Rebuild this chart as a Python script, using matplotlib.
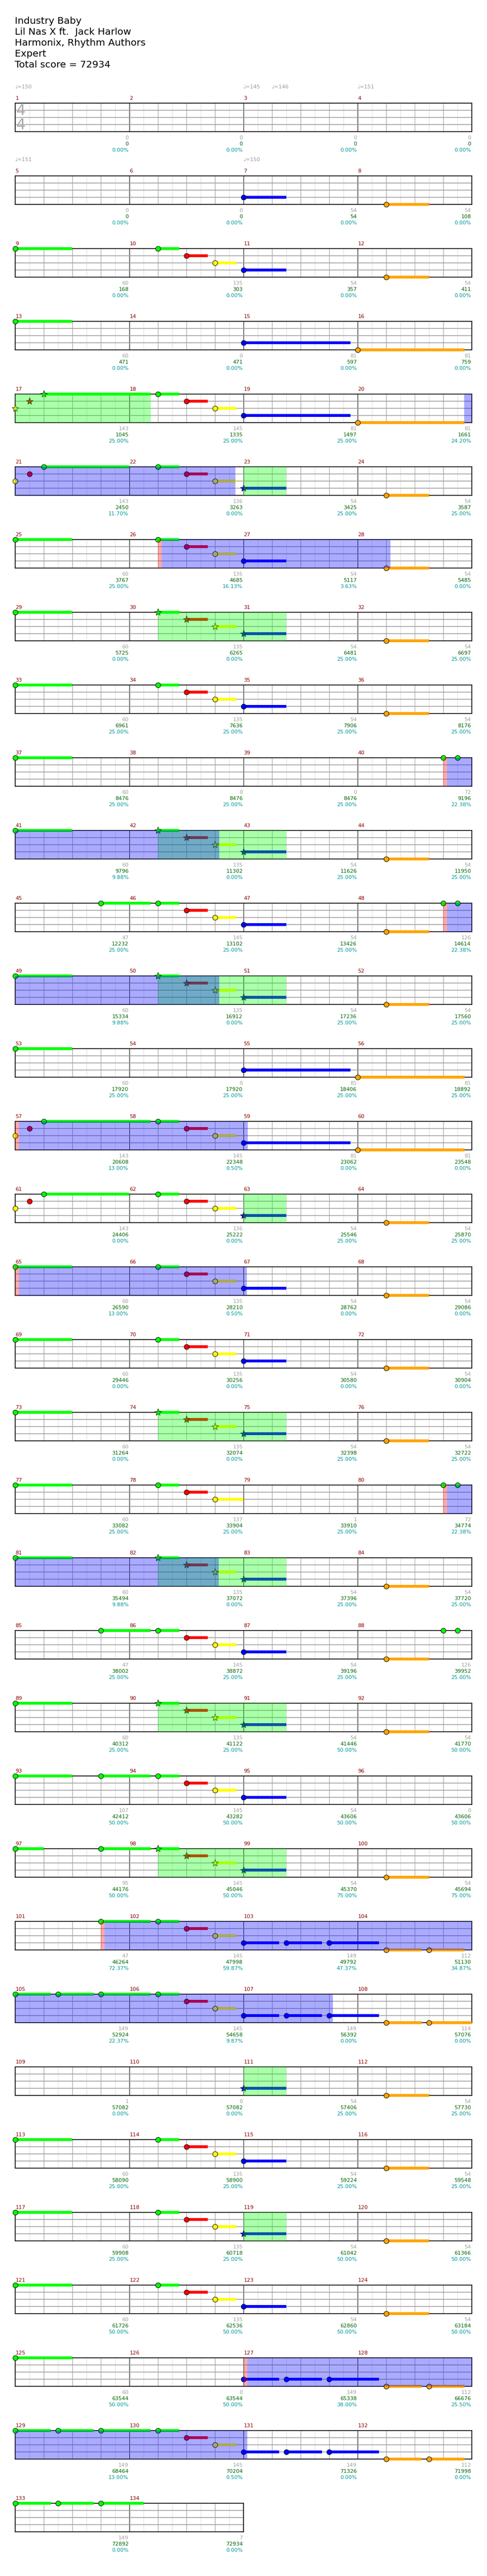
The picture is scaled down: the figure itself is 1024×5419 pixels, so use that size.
import matplotlib
matplotlib.use("Agg")
import matplotlib.pyplot as plt

# ---- song header ----
title_lines = ["Industry Baby", "Lil Nas X ft.  Jack Harlow", "Harmonix, Rhythm Authors",
               "Expert", "Total score = 72934"]

# tempo markers (absolute beat, bpm)
tempo_beats = [0, 8, 9, 12, 16, 24]
tempo_bpm = [150, 145, 146, 151, 151, 150]

# ---- per measure numbers (measures 1..134) ----
measure_score = [
    0, 0, 0, 0,  0, 0, 54, 54,  60, 135, 54, 54,  60, 0, 81, 81,
    143, 145, 81, 81,  143, 136, 54, 54,  60, 135, 54, 54,  60, 135, 54, 54,
    60, 135, 54, 54,  60, 0, 0, 72,  60, 135, 54, 54,  47, 145, 54, 126,
    60, 135, 54, 54,  60, 0, 81, 81,  143, 145, 81, 81,  143, 136, 54, 54,
    60, 135, 54, 54,  60, 135, 54, 54,  60, 135, 54, 54,  60, 137, 1, 72,
    60, 135, 54, 54,  47, 145, 54, 126,  60, 135, 54, 54,  107, 145, 54, 0,
    95, 145, 54, 54,  47, 145, 149, 112,  149, 145, 149, 114,  1, 0, 54, 54,
    60, 135, 54, 54,  60, 135, 54, 54,  60, 135, 54, 54,  60, 0, 149, 112,
    149, 145, 149, 112,  149, 7]

total_score = [
    0, 0, 0, 0,  0, 0, 54, 108,  168, 303, 357, 411,  471, 471, 597, 759,
    1045, 1335, 1497, 1661,  2450, 3263, 3425, 3587,  3767, 4685, 5117, 5485,
    5725, 6265, 6481, 6697,  6961, 7636, 7906, 8176,  8476, 8476, 8476, 9196,
    9796, 11302, 11626, 11950,  12232, 13102, 13426, 14614,
    15334, 16912, 17236, 17560,  17920, 17920, 18406, 18892,
    20608, 22348, 23062, 23548,  24406, 25222, 25546, 25870,
    26590, 28210, 28762, 29086,  29446, 30256, 30580, 30904,
    31264, 32074, 32398, 32722,  33082, 33904, 33910, 34774,
    35494, 37072, 37396, 37720,  38002, 38872, 39196, 39952,
    40312, 41122, 41446, 41770,  42412, 43282, 43606, 43606,
    44176, 45046, 45370, 45694,  46264, 47998, 49792, 51130,
    52924, 54658, 56392, 57076,  57082, 57082, 57406, 57730,
    58090, 58900, 59224, 59548,  59908, 60718, 61042, 61366,
    61726, 62536, 62860, 63184,  63544, 63544, 65338, 66676,
    68464, 70204, 71326, 71998,  72892, 72934]

percent = [
    0, 0, 0, 0,  0, 0, 0, 0,  0, 0, 0, 0,  0, 0, 0, 0,
    25, 25, 25, 24.20,  11.70, 0, 25, 25,  25, 16.13, 3.63, 0,  0, 0, 25, 25,
    25, 25, 25, 25,  25, 25, 25, 22.38,  9.88, 0, 25, 25,  25, 25, 25, 22.38,
    9.88, 0, 25, 25,  25, 25, 25, 25,  13.00, 0.50, 0, 0,  0, 0, 25, 25,
    13.00, 0.50, 0, 0,  0, 0, 0, 0,  0, 0, 25, 25,  25, 25, 25, 22.38,
    9.88, 0, 25, 25,  25, 25, 25, 25,  25, 25, 50, 50,  50, 50, 50, 50,
    50, 50, 75, 75,  72.37, 59.87, 47.37, 34.87,  22.37, 9.87, 0, 0,  0, 0, 25, 25,
    25, 25, 25, 25,  25, 25, 50, 50,  50, 50, 50, 50,  50, 50, 38.00, 25.50,
    13.00, 0.50, 0, 0,  0, 0]

# ---- notes per row of 4 measures: (fret, beat in row, sustain beats), '*' = star note ----
riff = [("G", 0, 2), ("G", 5, .75), ("R", 6, .75), ("Y", 7, .75), ("B", 8, 1.5), ("O", 13, 1.5)]
riff_sp = [("G", 0, 2), ("G*", 5, .75), ("R*", 6, .75), ("Y*", 7, .75), ("B*", 8, 1.5), ("O", 13, 1.5)]
long_riff = [("G", 0, 2), ("B", 8, 3.75), ("O", 12, 3.75)]
intro_sp = [("Y*", 0, 0), ("R*", .5, 0), ("G*", 1, 3.75), ("G", 5, .75), ("R", 6, .75),
            ("Y", 7, .75), ("B", 8, 3.75), ("O", 12, 3.75)]
intro_long = [("Y", 0, 0), ("R", .5, 0), ("G", 1, 3.75), ("G", 5, .75), ("R", 6, .75),
              ("Y", 7, .75), ("B", 8, 3.75), ("O", 12, 3.75)]
intro_short = [("Y", 0, 0), ("R", .5, 0), ("G", 1, 3), ("G", 5, .75), ("R", 6, .75),
               ("Y", 7, .75), ("B*", 8, 1.5), ("O", 13, 1.5)]
pickup = [("G", 0, 2), ("G", 15, 0), ("G", 15.5, 0)]
riff_pickup = [("G", 3, 1.75), ("G", 5, .75), ("R", 6, .75), ("Y", 7, .75), ("B", 8, 1.5),
               ("O", 13, 1.5), ("G", 15, 0), ("G", 15.5, 0)]
riff_cut = [("G", 0, 2), ("G", 5, .75), ("R", 6, .75), ("Y", 7, 1), ("G", 15, 0), ("G", 15.5, 0)]
riff_no_o = [("G", 0, 2), ("G", 3, 1.75), ("G", 5, .75), ("R", 6, .75), ("Y", 7, .75), ("B", 8, 1.5)]
riff_sp2 = [("G", 0, 1), ("G", 3, 1.75), ("G*", 5, .75), ("R*", 6, .75), ("Y*", 7, .75),
            ("B*", 8, 1.5), ("O", 13, 1.5)]
outro_a = [("G", 3, 1.75), ("G", 5, .75), ("R", 6, .75), ("Y", 7, .75), ("B", 8, 1.25),
           ("B", 9.5, 1.25), ("B", 11, 1.75), ("O", 13, 1.25), ("O", 14.5, 1.25)]
outro_b = [("G", 0, 1.25), ("G", 1.5, 1.25), ("G", 3, 1.75), ("G", 5, .75), ("R", 6, .75),
           ("Y", 7, .75), ("B", 8, 1.25), ("B", 9.5, 1.25), ("B", 11, 1.75), ("O", 13, 1.25),
           ("O", 14.5, 1.5)]
outro_c = [("G", 0, 2), ("B", 8, 1.25), ("B", 9.5, 1.25), ("B", 11, 1.75), ("O", 13, 1.25),
           ("O", 14.5, 1.25)]
outro_d = outro_b[:-1] + [("O", 14.5, 1.25)]
blue_sp = [("B*", 8, 1.5), ("O", 13, 1.5)]
riff_blue_sp = [("G", 0, 2), ("G", 5, .75), ("R", 6, .75), ("Y", 7, .75), ("B*", 8, 1.5), ("O", 13, 1.5)]
ending = [("G", 0, 1.25), ("G", 1.5, 1.25), ("G", 3, 1.5)]

row_notes = [
    [], [("B", 8, 1.5), ("O", 13, 1.5)], riff, long_riff,
    intro_sp, intro_short, riff, riff_sp,
    riff, pickup, riff_sp, riff_pickup,
    riff_sp, long_riff, intro_long, intro_short,
    riff, riff, riff_sp, riff_cut,
    riff_sp, riff_pickup, riff_sp, riff_no_o,
    riff_sp2, outro_a, outro_b, blue_sp,
    riff, riff_blue_sp, riff, outro_c,
    outro_d, ending]

# star power phrases (green) and activations (blue), absolute beats
sp_start = [64, 88, 117, 165, 197, 248, 293, 325, 357, 389, 440, 472]
sp_end = [68.75, 89.5, 121.5, 169.5, 201.5, 249.5, 297.5, 329.5, 361.5, 393.5, 441.5, 473.5]
act_start = [79.74, 101, 159, 191, 224, 256, 319, 403, 504]
act_end = [87.72, 109.15, 167.16, 199.16, 232.15, 264.13, 327.14, 427.15, 520.15]
act_pink = [False, True, True, True, True, True, True, True, True]

fret_color = {"G": "#00ff00", "R": "#ff0000", "Y": "#ffff00", "B": "#0000ff", "O": "#ffa500"}
fret_lane = {"G": 0, "R": 1, "Y": 2, "B": 3, "O": 4}

W, H, DPI = 1024, 5419, 100
LEFT, MEAS_W, STAFF_H, TOP0, PITCH = 31.5, 240, 60, 217, 153
n_measures = len(measure_score)

fig = plt.figure(figsize=(W / DPI, H / DPI), dpi=DPI)
title_base = [50, 73, 96, 119, 142]
for i, line in enumerate(title_lines):
    fig.text(31 / W, 1 - title_base[i] / H, line, fontsize=14.5, va="baseline", ha="left")

for r in range(len(row_notes)):
    first = r * 4
    n = min(4, n_measures - first)
    top = TOP0 + r * PITCH
    ax = fig.add_axes([LEFT / W, 1 - (top + STAFF_H) / H, n * MEAS_W / W, STAFF_H / H])
    ax.set_xlim(0, 4 * n)
    ax.set_ylim(4, 0)
    ax.set_xticks([])
    ax.set_yticks([])
    for s in ax.spines.values():
        s.set_linewidth(1.2)
        s.set_color("black")

    # grid
    for k in range(1, 8 * n):
        if k % 8 == 0:
            c = "black"
        elif k % 2 == 0:
            c = "#999999"
        else:
            c = "#dddddd"
        ax.axvline(k * 0.5, color=c, lw=0.75, zorder=1)
    for y in [1, 2, 3]:
        ax.axhline(y, color="#999999", lw=1.1, zorder=1.5)

    if r == 0:
        ax.text(0.21, 1.07, "4", fontsize=23, color="#aaaaaa", ha="center", va="center", zorder=2)
        ax.text(0.21, 3.07, "4", fontsize=23, color="#aaaaaa", ha="center", va="center", zorder=2)

    # notes
    for fret, beat, length in row_notes[r]:
        f = fret[0]
        lane = fret_lane[f]
        if length > 0:
            ax.barh(lane, length, left=beat, height=0.42, color=fret_color[f], lw=0,
                    zorder=4, clip_on=False)
    for fret, beat, length in row_notes[r]:
        f = fret[0]
        lane = fret_lane[f]
        if fret.endswith("*"):
            ax.plot(beat, lane, marker="*", ms=11, mfc=fret_color[f], mec="black", mew=0.6,
                    zorder=5, clip_on=False)
        else:
            ax.plot(beat, lane, marker="o", ms=7.6, mfc=fret_color[f], mec="black", mew=0.7,
                    zorder=5, clip_on=False)

    # overlays
    base = r * 16
    for s, e in zip(sp_start, sp_end):
        a, b = max(s, base), min(e, base + 4 * n)
        if a < b:
            ax.axvspan(a - base, b - base, color="#00ff00", alpha=1 / 3, lw=0, zorder=10)
    for s, e, pink in zip(act_start, act_end, act_pink):
        a, b = max(s, base), min(e, base + 4 * n)
        if a < b:
            if a == s and pink:
                ax.axvspan(a - base, a - base + 0.14, color="#ff0000", alpha=1 / 3, lw=0, zorder=10)
                a = a + 0.14
            ax.axvspan(a - base, b - base, color="#0000ff", alpha=1 / 3, lw=0, zorder=11)

    # tempo markers
    for tb, bpm in zip(tempo_beats, tempo_bpm):
        if base <= tb < base + 16:
            ax.annotate("\u2669=%d" % bpm, xy=(tb - base, 1), xycoords=("data", "axes fraction"),
                        xytext=(0, 31), textcoords="offset pixels", fontsize=8,
                        color="#999999", ha="left", va="baseline", annotation_clip=False)

    # measure labels
    for j in range(n):
        m = first + j
        ax.annotate(str(m + 1), xy=(4 * j, 1), xycoords=("data", "axes fraction"),
                    xytext=(1, 7), textcoords="offset pixels", fontsize=8,
                    color="#8b0000", ha="left", va="baseline", annotation_clip=False)
        xe = 4 * (j + 1)
        ax.annotate(str(measure_score[m]), xy=(xe, 0), xycoords=("data", "axes fraction"),
                    xytext=(-1, -8), textcoords="offset pixels", fontsize=8,
                    color="#a0a0a0", ha="right", va="top", annotation_clip=False)
        ax.annotate(str(total_score[m]), xy=(xe, 0), xycoords=("data", "axes fraction"),
                    xytext=(-1, -21), textcoords="offset pixels", fontsize=8,
                    color="#006400", ha="right", va="top", annotation_clip=False)
        ax.annotate("%.2f%%" % percent[m], xy=(xe, 0), xycoords=("data", "axes fraction"),
                    xytext=(-1, -34), textcoords="offset pixels", fontsize=8,
                    color="#009696", ha="right", va="top", annotation_clip=False)

fig.savefig("out.png", dpi=DPI)
